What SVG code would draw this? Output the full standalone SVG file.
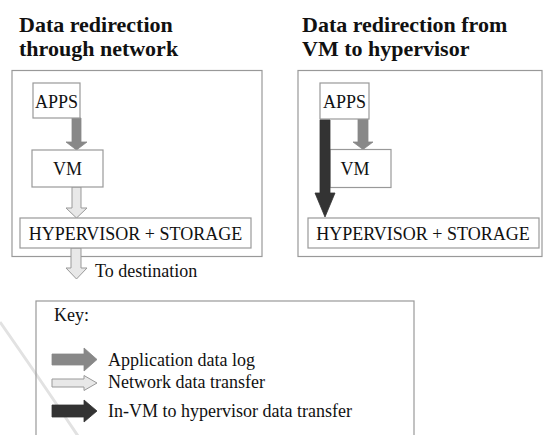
<svg xmlns="http://www.w3.org/2000/svg" width="543" height="435" viewBox="0 0 543 435">
<style>
text{font-family:'Liberation Serif','Times New Roman',Times,'Nimbus Roman','Noto Serif','DejaVu Serif',serif}
.title{font-weight:bold;font-size:22px;fill:#111}
.t{font-size:18px;fill:#111}
.box{fill:#fff;stroke:#999;stroke-width:1.2}
.panel{fill:none;stroke:#999;stroke-width:1.2}
.mid{fill:#888;stroke:#888;stroke-width:0.8}
.light{fill:#e8e8e8;stroke:#999;stroke-width:1}
.dark{fill:#333;stroke:#333;stroke-width:0.8}
</style>
<rect width="543" height="435" fill="#fff"/>
<path d="M0 322 Q 35 372 78 436" fill="none" stroke="#e2e2e2" stroke-width="3"/>

<g id="title-left">
<text class="title" x="19" y="32">Data redirection</text>
<text class="title" x="19" y="56">through network</text>
</g>
<g id="title-right">
<text class="title" x="302" y="32">Data redirection from</text>
<text class="title" x="302" y="56">VM to hypervisor</text>
</g>

<g id="panel-left"><rect class="panel" x="12" y="70.5" width="250" height="186"/></g>
<g id="panel-right"><rect class="panel" x="298" y="70.5" width="244" height="186"/></g>

<g id="connectors">
<path class="mid" d="M72 118 H81 V142 H87 L76.5 150 L66 142 H72 Z"/>
<path class="light" d="M72 187 H81 V208 H87 L76.5 218 L66 208 H72 Z"/>
<path class="light" d="M71 248 H81 V268 H87 L76.5 279 L66 268 H71 Z"/>
<path class="mid" d="M358 119 H368 V142 H373 L363 149.5 L353 142 H358 Z"/>
</g>

<g id="apps-left"><rect class="box" x="33" y="83" width="47" height="35"/><text class="t" x="56.5" y="108" text-anchor="middle">APPS</text></g>
<g id="vm-left"><rect class="box" x="32" y="150" width="71" height="37"/><text class="t" x="67.5" y="175" text-anchor="middle">VM</text></g>
<g id="hyper-left"><rect class="box" x="20" y="218" width="231" height="30"/><text class="t" x="135.5" y="240" text-anchor="middle">HYPERVISOR + STORAGE</text></g>
<g id="dest-label"><text class="t" x="95" y="277">To destination</text></g>

<g id="apps-right"><rect class="box" x="320" y="83" width="49" height="36"/><text class="t" x="344.5" y="108" text-anchor="middle">APPS</text></g>
<g id="vm-right"><rect class="box" x="330" y="149.5" width="61" height="38"/><text class="t" x="355" y="175" text-anchor="middle">VM</text></g>
<g id="hyper-right"><rect class="box" x="308" y="218" width="231" height="30"/><text class="t" x="423" y="240" text-anchor="middle">HYPERVISOR + STORAGE</text></g>
<g id="connector-invm"><path class="dark" d="M320 120 H330 V193 H335 L325 217 L315 193 H320 Z"/></g>

<g id="key">
<rect class="panel" x="36" y="301" width="378" height="140"/>
<text class="t" x="54" y="321">Key:</text>
<path class="mid" d="M52 354 H84 V348 L97 359.5 L84 371 V365 H52 Z"/>
<text class="t" x="108" y="366">Application data log</text>
<path class="light" d="M52 379 H84 V375.5 L97 383 L84 390.5 V387 H52 Z"/>
<text class="t" x="108" y="388">Network data transfer</text>
<path class="dark" d="M52 405 H84 V400 L97 411 L84 422 V417 H52 Z"/>
<text class="t" x="108" y="417">In-VM to hypervisor data transfer</text>
</g>
</svg>
